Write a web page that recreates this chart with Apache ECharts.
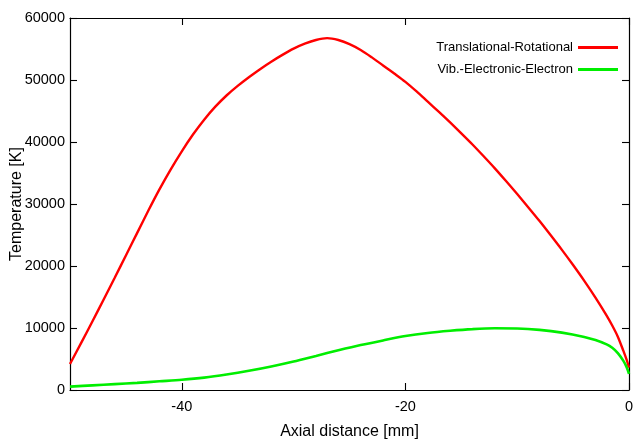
<!DOCTYPE html>
<html>
<head>
<meta charset="utf-8">
<script src="https://cdn.jsdelivr.net/npm/echarts@6/dist/echarts.min.js"></script>
<style>
html,body{margin:0;padding:0;background:#fff;}
#chart{width:637px;height:445px;}
</style>
</head>
<body>
<div id="chart"></div>
<script>
// Axial distance [mm]
const transX = [-50, -49, -48, -47, -46, -45, -44, -43, -42, -41, -40, -39, -38, -37, -36, -35, -34, -33, -32, -31, -30, -29, -28, -27, -26, -25, -24, -23, -22, -21, -20, -19, -18, -17, -16, -15, -14, -13, -12, -11, -10, -9, -8, -7, -6, -5, -4, -3, -2, -1.5, -1, -0.5, -0.2, 0];
// Translational-Rotational temperature [K]
const transT = [4200, 7600, 11050, 14550, 18100, 21700, 25300, 28900, 32350, 35550, 38500, 41200, 43600, 45700, 47500, 49050, 50450, 51750, 52950, 54050, 55050, 55850, 56450, 56750, 56450, 55800, 54850, 53650, 52350, 51050, 49700, 48150, 46500, 44850, 43150, 41400, 39600, 37700, 35750, 33700, 31600, 29450, 27250, 24950, 22600, 20150, 17600, 14900, 12000, 10400, 8600, 6300, 4800, 3600];

const vibX = [-50, -48, -46, -44, -42, -40, -38, -36, -34, -32, -30, -28, -26, -24, -22, -20, -18, -16, -14, -12, -10, -8, -6, -4, -3, -2, -1.5, -1, -0.5, -0.2, 0];
// Vib.-Electronic-Electron temperature [K]
const vibT = [550, 750, 950, 1150, 1400, 1650, 2000, 2500, 3100, 3800, 4600, 5500, 6400, 7250, 8000, 8700, 9200, 9550, 9820, 9960, 9930, 9700, 9250, 8550, 8050, 7350, 6800, 5950, 4700, 3650, 2600];

const xTicks = [-40, -20, 0];
const yTickStep = 10000;

const seriesNames = ['Translational-Rotational', 'Vib.-Electronic-Electron'];
const seriesColors = ['#ff0000', '#00ee00'];

const FONT = 'Liberation Sans, Arial, sans-serif';

const zip = (xs, ys) => xs.map((x, i) => [x, ys[i]]);

const chart = echarts.init(document.getElementById('chart'), null, {renderer: 'canvas'});

// gnuplot-style frame: plain black border, inward ticks mirrored on all four sides
const frameLine = {show: true, onZero: false, lineStyle: {color: '#000', width: 1.2}};
const tickStyle = (values) => {
  const t = {show: true, inside: true, length: 7, lineStyle: {color: '#000', width: 1.1}};
  if (values) t.customValues = values;
  return t;
};

chart.setOption({
  animation: false,
  backgroundColor: '#fff',
  grid: {left: 70, right: 8, top: 18, bottom: 55, show: false, containLabel: false, outerBoundsMode: 'none'},
  legend: {
    orient: 'vertical',
    right: 14,
    top: 36,
    align: 'right',
    itemWidth: 40,
    itemHeight: 3,
    itemGap: 9,
    icon: 'rect',
    textStyle: {fontFamily: FONT, fontSize: 13, color: '#000'},
    data: seriesNames
  },
  xAxis: [{
    type: 'value',
    min: -50, max: 0,
    position: 'bottom',
    name: 'Axial distance [mm]',
    nameLocation: 'middle',
    nameGap: 34,
    nameTextStyle: {fontFamily: FONT, fontSize: 16, color: '#000'},
    axisLine: frameLine,
    axisTick: tickStyle(xTicks),
    axisLabel: {customValues: xTicks, fontFamily: FONT, fontSize: 14.5, color: '#000', margin: 9},
    splitLine: {show: false}
  }, {
    type: 'value',
    min: -50, max: 0,
    position: 'top',
    axisLine: frameLine,
    axisTick: tickStyle(xTicks),
    axisLabel: {show: false},
    splitLine: {show: false}
  }],
  yAxis: [{
    type: 'value',
    min: 0, max: 60000, interval: yTickStep,
    position: 'left',
    name: 'Temperature [K]',
    nameLocation: 'middle',
    nameGap: 45,
    nameMoveOverlap: false,
    nameTextStyle: {fontFamily: FONT, fontSize: 16, color: '#000'},
    axisLine: frameLine,
    axisTick: tickStyle(),
    axisLabel: {fontFamily: FONT, fontSize: 14.5, color: '#000', margin: 5, formatter: v => String(v)},
    splitLine: {show: false}
  }, {
    type: 'value',
    min: 0, max: 60000, interval: yTickStep,
    position: 'right',
    axisLine: frameLine,
    axisTick: tickStyle(),
    axisLabel: {show: false},
    splitLine: {show: false}
  }],
  series: [{
    name: seriesNames[0],
    type: 'line',
    data: zip(transX, transT),
    smooth: 0.3,
    showSymbol: false,
    color: seriesColors[0],
    lineStyle: {width: 2.4, color: seriesColors[0]},
    z: 3
  }, {
    name: seriesNames[1],
    type: 'line',
    data: zip(vibX, vibT),
    smooth: 0.3,
    showSymbol: false,
    color: seriesColors[1],
    lineStyle: {width: 2.6, color: seriesColors[1]},
    z: 4
  }]
});
</script>
</body>
</html>
